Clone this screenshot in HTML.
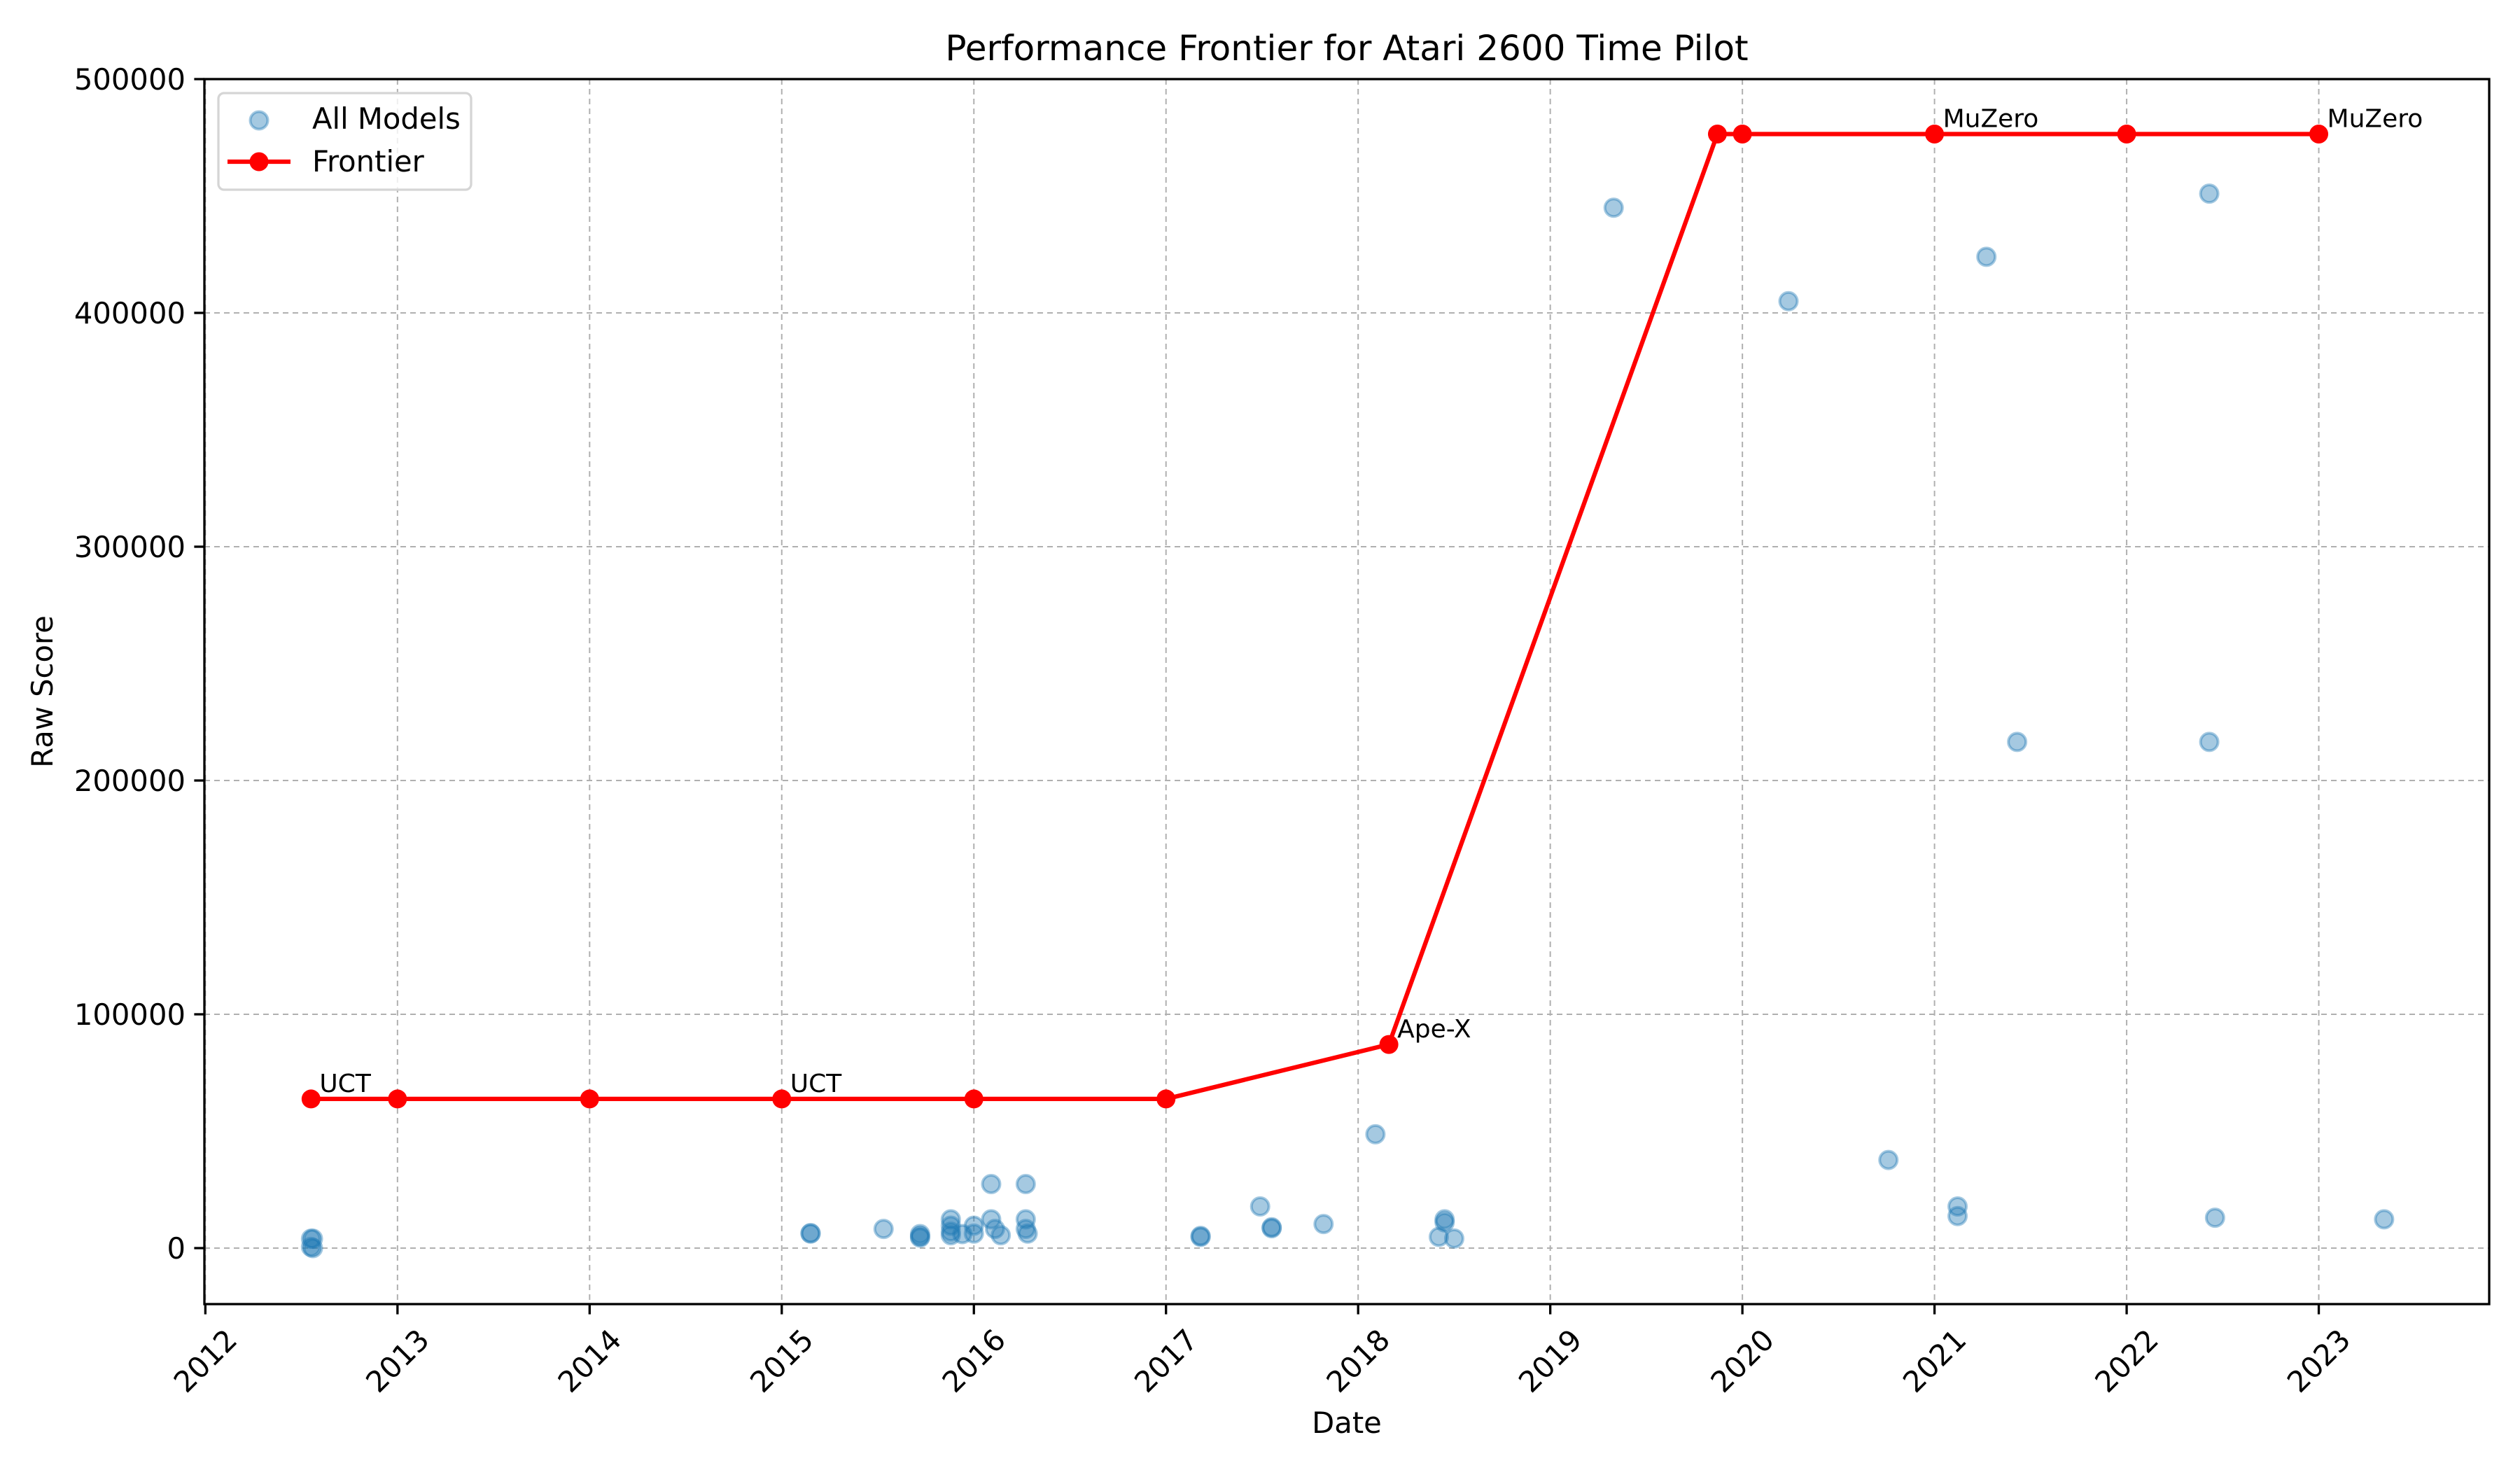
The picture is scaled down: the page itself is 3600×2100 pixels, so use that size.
<!DOCTYPE html>
<html><head><meta charset="utf-8"><style>body{margin:0;background:#fff}svg{display:block}text{font-family:"DejaVu Sans","Liberation Sans",sans-serif}</style></head>
<body>
<svg id="chart" width="3600" height="2100" viewBox="0 0 3600 2100" xmlns="http://www.w3.org/2000/svg">
<rect width="3600" height="2100" fill="#fff"/>
<g id="grid"></g><g id="axes"></g><g id="marks"></g><g id="labels"></g>
</svg>
<script>
const xTicks = [2012,2013,2014,2015,2016,2017,2018,2019,2020,2021,2022,2023];
const yTicks = [0,100000,200000,300000,400000,500000];
const scatterDates = [2012.55,2012.56,2012.55,2012.56,2015.15,2015.15,2015.53,2015.72,2015.72,2015.72,2015.88,2015.88,2015.88,2015.88,2015.94,2016.0,2016.0,2016.09,2016.09,2016.11,2016.14,2016.27,2016.27,2016.27,2016.28,2017.18,2017.18,2017.49,2017.55,2017.55,2017.82,2018.09,2018.42,2018.45,2018.45,2018.5,2019.33,2020.24,2020.76,2021.12,2021.12,2021.27,2021.43,2022.43,2022.43,2022.46,2023.34];
const scatterScores = [4000,4000,500,0,6200,6400,8200,6000,4500,5000,12300,9600,7000,5500,6000,9600,6200,27400,12300,8200,5500,27400,12300,8200,6200,4800,5200,17800,8900,8500,10300,48700,4800,12300,11000,4100,445000,405000,37700,17800,13700,424000,216500,451000,216500,13000,12300];
const frontierDates = [2012.55,2013,2014,2015,2016,2017,2018.16,2019.87,2020,2021,2022,2023];
const frontierScores = [63800,63800,63800,63800,63800,63800,87100,476500,476500,476500,476500,476500];
const annotDates = [2012.55,2015,2018.16,2021,2023];
const annotScores = [63800,63800,87100,476500,476500];
const annotLabels = ["UCT","UCT","Ape-X","MuZero","MuZero"];

const L=292,R=3556,T=113,B=1863;
const x0=2011.995, x1=2023.887, y0=-23950, y1=500000;
const X=d=>L+(d-x0)/(x1-x0)*(R-L);
const Y=v=>B-(v-y0)/(y1-y0)*(B-T);
const NS="http://www.w3.org/2000/svg";
function mk(tag,attrs,parent){const e=document.createElementNS(NS,tag);for(const k in attrs)e.setAttribute(k,attrs[k]);document.getElementById(parent).appendChild(e);return e;}

xTicks.forEach(t=>{
  const g=mk('line',{x1:X(t),x2:X(t),y1:T,y2:B,stroke:'#b0b0b0','stroke-width':2,'stroke-dasharray':'8,6'},'grid');
  
  
  const tk=mk('line',{x1:X(t),x2:X(t),y1:B,y2:B+14.6,stroke:'#000','stroke-width':3.3},'axes');
  
  
  const cx=X(t),cy=1944;
  const lb=mk('text',{x:cx,y:cy,'font-size':41.7,'text-anchor':'middle','dominant-baseline':'central',transform:`rotate(-45 ${cx} ${cy})`},'labels');
  lb.textContent=t;
  
  
});
yTicks.forEach(t=>{
  const g=mk('line',{x1:L,x2:R,y1:Y(t),y2:Y(t),stroke:'#b0b0b0','stroke-width':2,'stroke-dasharray':'8,6'},'grid');
  
  
  const tk=mk('line',{x1:L-14.6,x2:L,y1:Y(t),y2:Y(t),stroke:'#000','stroke-width':3.3},'axes');
  
  
  const lb=mk('text',{x:L-27,y:Y(t)+15,'font-size':41.7,'text-anchor':'end'},'labels');
  lb.textContent=t;
  
  
});
const fr=mk('rect',{x:L,y:T,width:R-L,height:B-T,fill:'none',stroke:'#000','stroke-width':3.3},'axes');



scatterDates.forEach((d,i)=>{
  const c=mk('circle',{cx:X(d),cy:Y(scatterScores[i]),r:12.5,fill:'#1f77b4','fill-opacity':0.4,stroke:'#1f77b4','stroke-opacity':0.4,'stroke-width':4},'marks');
  
  
});
const pl=mk('polyline',{points:frontierDates.map((d,i)=>X(d)+','+Y(frontierScores[i])).join(' '),fill:'none',stroke:'#ff0000','stroke-width':6.25,'stroke-linejoin':'round'},'marks');


frontierDates.forEach((d,i)=>{
  const c=mk('circle',{cx:X(d),cy:Y(frontierScores[i]),r:13.5,fill:'#ff0000'},'marks');
  
  
});
annotDates.forEach((d,i)=>{
  const t=mk('text',{x:X(d)+12,y:Y(annotScores[i])-10,'font-size':36},'labels');
  t.textContent=annotLabels[i];
  
  
});
</script>
<svg style="position:absolute;left:0;top:0" width="3600" height="2100" xmlns="http://www.w3.org/2000/svg">
<text x="1924" y="86" font-size="50" text-anchor="middle" font-family="DejaVu Sans, Liberation Sans, sans-serif">Performance Frontier for Atari 2600 Time Pilot</text>
<text x="0" y="0" font-size="41.7" text-anchor="middle" transform="translate(75 988) rotate(-90)" font-family="DejaVu Sans, Liberation Sans, sans-serif">Raw Score</text>
<text x="1924" y="2047" font-size="41.7" text-anchor="middle" font-family="DejaVu Sans, Liberation Sans, sans-serif">Date</text>
<g>
<rect x="312" y="133" width="361" height="138" rx="8" fill="#fff" fill-opacity="0.8" stroke="#d5d5d5" stroke-width="3.3"/>
<circle cx="370" cy="172" r="12.5" fill="#1f77b4" fill-opacity="0.4" stroke="#1f77b4" stroke-opacity="0.4" stroke-width="4"/>
<text x="446" y="184" font-size="41.7" font-family="DejaVu Sans, Liberation Sans, sans-serif">All Models</text>
<line x1="325" x2="415" y1="231" y2="231" stroke="#ff0000" stroke-width="6.25"/>
<circle cx="370" cy="231" r="13.5" fill="#ff0000"/>
<text x="446" y="245" font-size="41.7" font-family="DejaVu Sans, Liberation Sans, sans-serif">Frontier</text>
</g>
</svg>
</body></html>
